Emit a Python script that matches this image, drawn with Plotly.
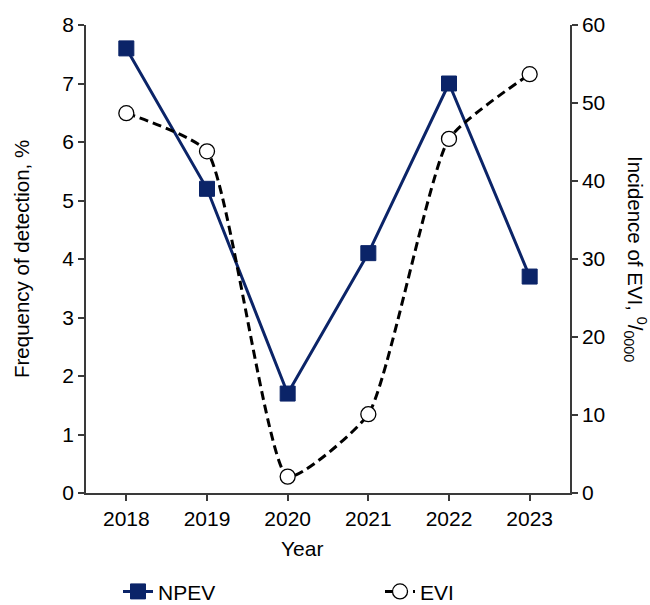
import plotly.graph_objects as go

# Data
years = ["2018", "2019", "2020", "2021", "2022", "2023"]
npev_freq = [7.6, 5.2, 1.7, 4.1, 7.0, 3.7]          # frequency of detection, %
evi_incidence = [48.7, 43.8, 2.1, 10.1, 45.4, 53.7]  # incidence per 10 000

left_ticks = [0, 1, 2, 3, 4, 5, 6, 7, 8]
right_ticks = [0, 10, 20, 30, 40, 50, 60]

FONT = "Liberation Sans, Arial, sans-serif"
NAVY = "#0B2468"
AXIS = "#3a3a3a"
TICK_SIZE = 21
TITLE_SIZE = 20.5

fig = go.Figure()

fig.add_trace(go.Scatter(
    x=years, y=npev_freq, name="NPEV", mode="lines+markers",
    line=dict(color=NAVY, width=3),
    marker=dict(symbol="square", size=15, color=NAVY, line=dict(color=NAVY, width=1)),
    yaxis="y", legend="legend",
))

fig.add_trace(go.Scatter(
    x=years, y=evi_incidence, name="EVI", mode="lines+markers",
    line=dict(color="black", width=3, dash="9px,5px", shape="spline", smoothing=0.5),
    marker=dict(symbol="circle", size=15, color="white", line=dict(color="black", width=1.3)),
    yaxis="y2", legend="legend2",
))

legend_style = dict(
    orientation="h", xanchor="left", yanchor="middle",
    font=dict(size=TICK_SIZE), bgcolor="rgba(0,0,0,0)",
)

fig.update_layout(
    width=650, height=605,
    margin=dict(l=86, r=80, t=25, b=112, autoexpand=False),
    paper_bgcolor="white", plot_bgcolor="white",
    font=dict(family=FONT, size=TICK_SIZE, color="black"),
    showlegend=True,
    legend=dict(x=(118 - 86) / 484, y=-0.211, **legend_style),
    legend2=dict(x=(380 - 86) / 484, y=-0.211, **legend_style),
    xaxis=dict(
        type="category", range=[-0.5, 5.5],
        showline=True, linecolor=AXIS, linewidth=1.5,
        ticks="outside", ticklen=6, tickcolor=AXIS, tickwidth=1.5,
        showgrid=False, zeroline=False,
        tickfont=dict(size=TICK_SIZE),
    ),
    yaxis=dict(
        range=[0, 8], tickvals=left_ticks,
        showline=True, linecolor=AXIS, linewidth=1.5,
        ticks="outside", ticklen=6, tickcolor=AXIS, tickwidth=1.5,
        showgrid=False, zeroline=False,
        tickfont=dict(size=TICK_SIZE),
    ),
    yaxis2=dict(
        range=[0, 60], tickvals=right_ticks, overlaying="y", side="right",
        showline=True, linecolor=AXIS, linewidth=1.5,
        ticks="outside", ticklen=6, tickcolor=AXIS, tickwidth=1.5,
        showgrid=False, zeroline=False,
        tickfont=dict(size=TICK_SIZE),
    ),
)

# Axis titles: x title sits slightly left of centre, left title near the page edge,
# right title reads downward
fig.add_annotation(
    text="Year", xref="paper", yref="paper", x=(302 - 86) / 484, y=-0.118,
    showarrow=False, font=dict(size=TICK_SIZE), xanchor="center", yanchor="middle",
)
fig.add_annotation(
    text="Frequency of detection, %", xref="paper", yref="paper",
    x=(21 - 86) / 484, y=0.5, showarrow=False, textangle=-90,
    font=dict(size=TITLE_SIZE), xanchor="center", yanchor="middle",
)
fig.add_annotation(
    text="Incidence of EVI, <sup>0</sup>/<sub>0000</sub>",
    xref="paper", yref="paper", x=1 + (636 - 570) / 484, y=0.5,
    showarrow=False, textangle=90, font=dict(size=TITLE_SIZE),
    xanchor="center", yanchor="middle",
)

fig.write_html("out.html")
